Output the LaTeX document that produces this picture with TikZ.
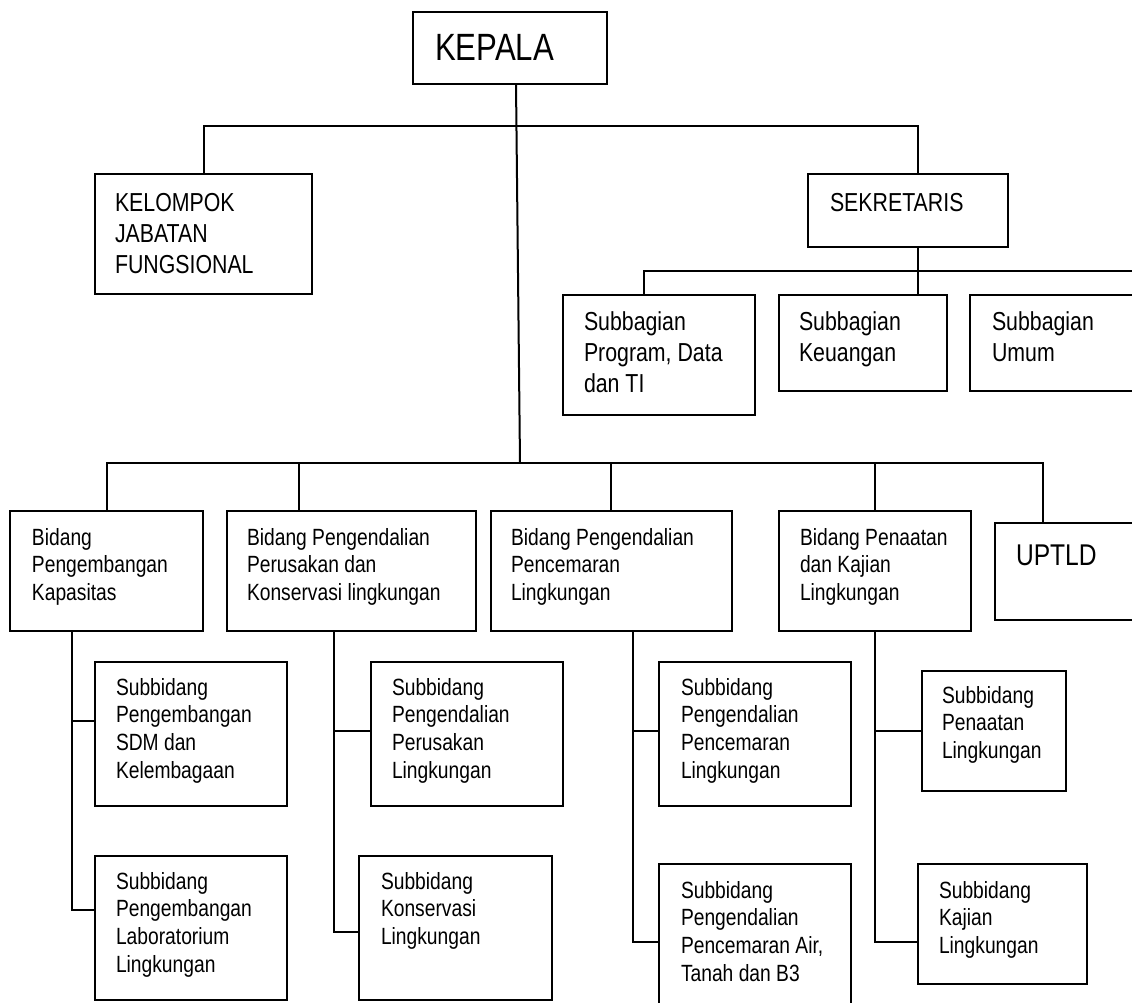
\documentclass[tikz,border=0pt]{standalone}
\usepackage{fontspec}
\setmainfont{Liberation Sans}[FakeStretch=0.82]
\newlength\pxl \setlength\pxl{0.75pt}
\newcommand{\bt}[5]{\parbox[c][#2\pxl][t]{#1\pxl}{\raggedright\leftskip=#3\pxl\rule{0pt}{#4\pxl}#5}}
\tikzset{
  box/.style={draw, line width=1.5pt, inner sep=0pt, outer sep=0pt, anchor=north west},
  fhuge/.style={font={\fontsize{28.5pt}{34pt}\selectfont}},
  fup/.style={font={\fontsize{22.5pt}{27pt}\selectfont}},
  fhead/.style={font={\fontsize{19.5pt}{23.25pt}\selectfont}},
  fsub/.style={font={\fontsize{17.6pt}{20.8pt}\selectfont}},
  conn/.style={line width=1.5pt}
}
\begin{document}
\begin{tikzpicture}[x=0.75pt,y=-0.75pt]
\useasboundingbox (0,0) rectangle (1132,1003);
\clip (0,0) rectangle (1132,1003);
% boxes
\node[box,fhuge] (kep) at (413,12) {\bt{194}{72}{22}{48}{KEPALA}};
\node[box,fhead] (kel) at (95,174) {\bt{217}{120}{20}{37}{KELOMPOK\\JABATAN\\FUNGSIONAL}};
\node[box,fhead] (sek) at (808,174) {\bt{200}{73}{22}{37}{SEKRETARIS}};
\node[box,fhead] (prog) at (563,295) {\bt{192}{120}{21}{35}{Subbagian\\Program, Data\\dan TI}};
\node[box,fhead] (keu) at (779,295) {\bt{168}{96}{20}{35}{Subbagian\\Keuangan}};
\node[box,fhead] (umum) at (970,295) {\bt{200}{96}{22}{35}{Subbagian\\Umum}};
\node[box,fsub] (b1) at (10,511) {\bt{193}{120}{22}{34}{Bidang\\Pengembangan\\Kapasitas}};
\node[box,fsub] (b2) at (227,511) {\bt{249}{120}{20}{34}{Bidang Pengendalian\\Perusakan dan\\Konservasi lingkungan}};
\node[box,fsub] (b3) at (491,511) {\bt{241}{120}{20}{34}{Bidang Pengendalian\\Pencemaran\\Lingkungan}};
\node[box,fsub] (b4) at (779,511) {\bt{192}{120}{21}{34}{Bidang Penaatan\\dan Kajian\\Lingkungan}};
\node[box,fup] (up) at (995,523) {\bt{200}{97}{21}{42}{UPTLD}};
\node[box,fsub] (s1) at (95,662) {\bt{192}{144}{21}{33}{Subbidang\\Pengembangan\\SDM dan\\Kelembagaan}};
\node[box,fsub] (s2) at (95,856) {\bt{192}{144}{21}{33}{Subbidang\\Pengembangan\\Laboratorium\\Lingkungan}};
\node[box,fsub] (s3) at (371,662) {\bt{192}{144}{21}{33}{Subbidang\\Pengendalian\\Perusakan\\Lingkungan}};
\node[box,fsub] (s4) at (359,856) {\bt{193}{144}{22}{33}{Subbidang\\Konservasi\\Lingkungan}};
\node[box,fsub] (s5) at (659,662) {\bt{192}{144}{22}{33}{Subbidang\\Pengendalian\\Pencemaran\\Lingkungan}};
\node[box,fsub] (s6) at (659,864) {\bt{192}{160}{22}{34}{Subbidang\\Pengendalian\\Pencemaran Air,\\Tanah dan B3}};
\node[box,fsub] (s7) at (922,671) {\bt{144}{120}{20}{32}{Subbidang\\Penaatan\\Lingkungan}};
\node[box,fsub] (s8) at (918,864) {\bt{169}{120}{21}{34}{Subbidang\\Kajian\\Lingkungan}};
% coordinates
\coordinate (kt) at (516,84);
\coordinate (bb) at (520,463);
\coordinate (tr) at (918,126);
\coordinate (sb) at (918,271);
\coordinate (sbl) at (644,271);
\coordinate (sbr) at (1140,271);
\coordinate (bl) at (107,463);
\coordinate (br) at (1043,463);
\coordinate (d2) at (299,463);
\coordinate (d3) at (611,463);
\coordinate (d4) at (875,463);
\coordinate (v1) at (72,910);
\coordinate (h1) at (72,721);
\coordinate (v2) at (334,932);
\coordinate (h2) at (334,731);
\coordinate (v3) at (633,942);
\coordinate (h3) at (633,731);
\coordinate (v4) at (875,942);
\coordinate (h4) at (875,731);
% connectors
\draw[conn] (kep.south -| kt) -- (bb);
\draw[conn] (kel.north) |- (tr) -- (tr |- sek.north);
\draw[conn] (sek.south -| sb) -- (sb);
\draw[conn] (prog.north -| sbl) -- (sbl) -- (sbr);
\draw[conn] (sb) -- (keu.north -| sb);
\draw[conn] (b1.north -| bl) -- (bl) -- (br) -- (br |- up.north);
\draw[conn] (d2) -- (b2.north -| d2);
\draw[conn] (d3) -- (b3.north -| d3);
\draw[conn] (d4) -- (b4.north -| d4);
\draw[conn] (b1.south -| v1) -- (v1) -- (s2.west |- v1);
\draw[conn] (h1) -- (s1.west |- h1);
\draw[conn] (b2.south -| v2) -- (v2) -- (s4.west |- v2);
\draw[conn] (h2) -- (s3.west |- h2);
\draw[conn] (b3.south -| v3) -- (v3) -- (s6.west |- v3);
\draw[conn] (h3) -- (s5.west |- h3);
\draw[conn] (b4.south -| v4) -- (v4) -- (s8.west |- v4);
\draw[conn] (h4) -- (s7.west |- h4);
\end{tikzpicture}
\end{document}
